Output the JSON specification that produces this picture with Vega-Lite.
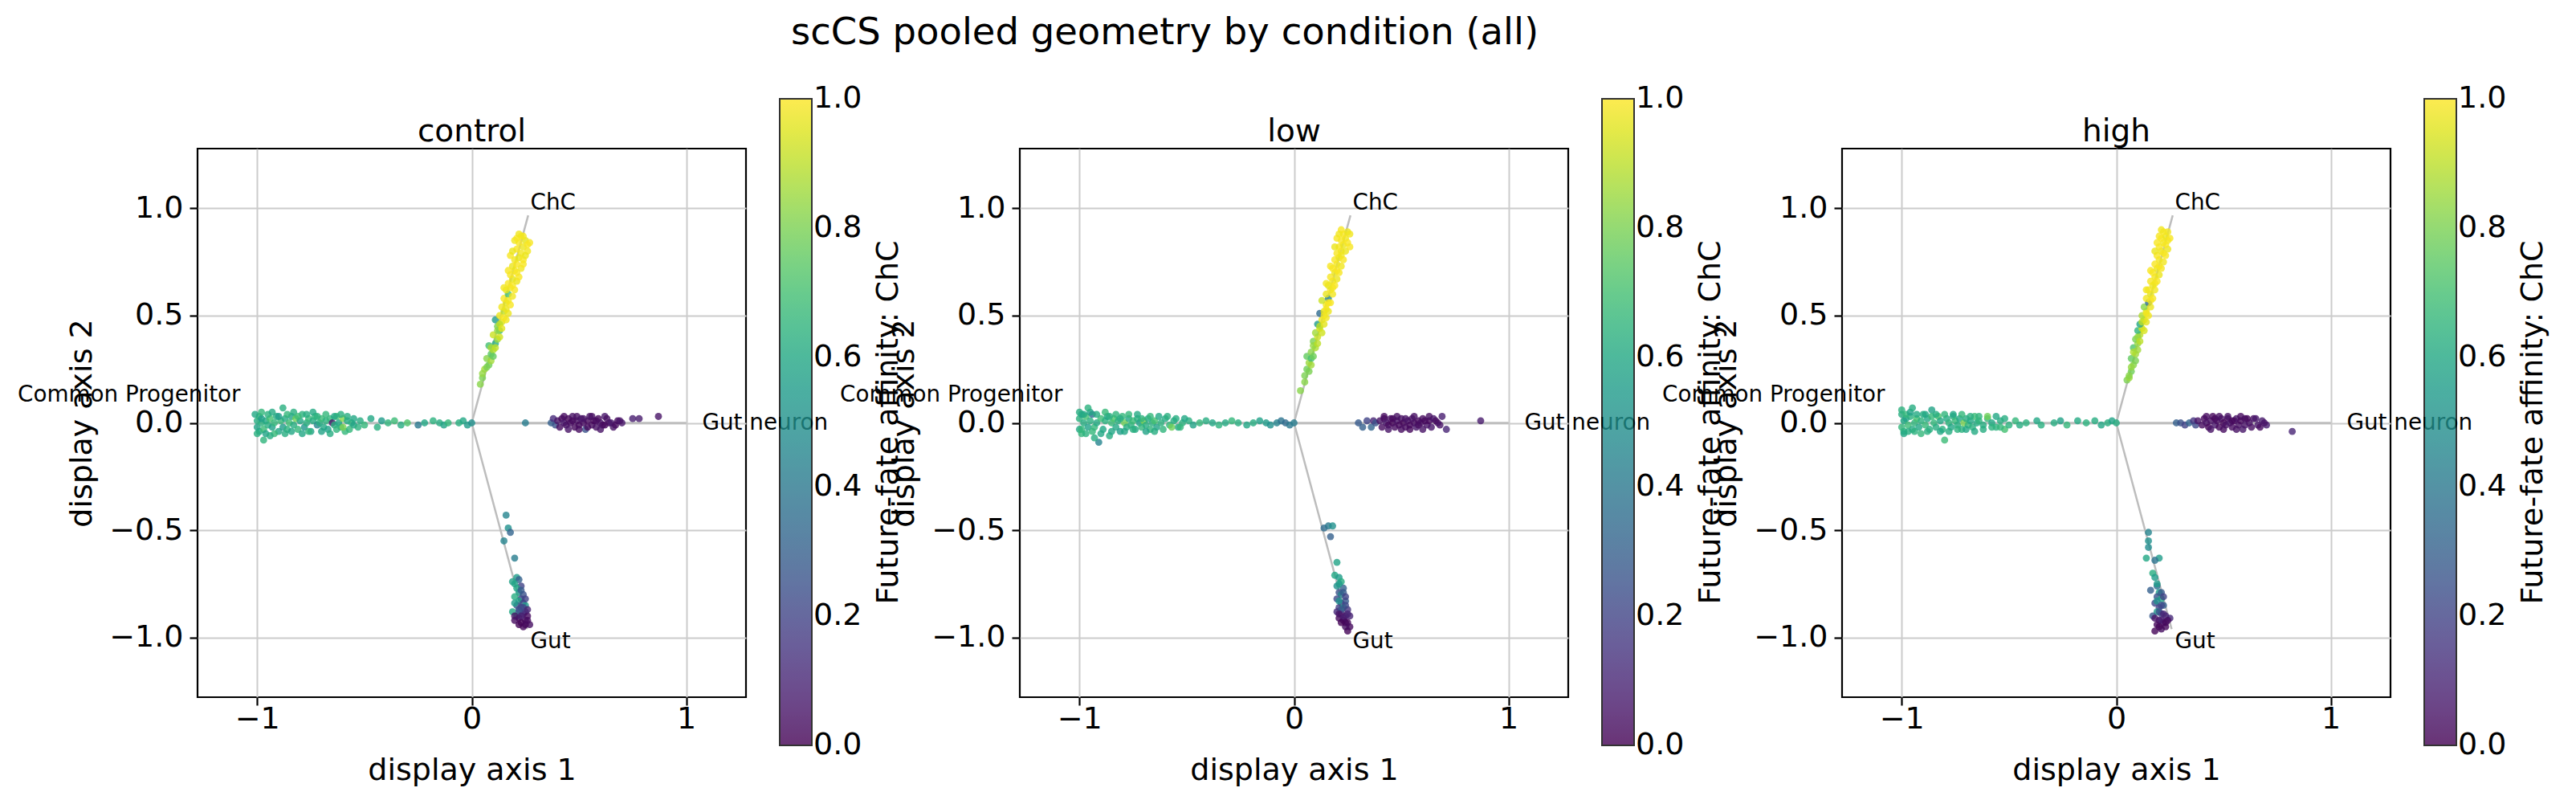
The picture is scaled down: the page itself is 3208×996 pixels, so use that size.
{
"$schema": "https://vega.github.io/schema/vega-lite/v6.json",
"padding": {"left": 20, "top": 18, "right": 5, "bottom": 5},
"background": "white",
"title": {"text": "scCS pooled geometry by condition (all)", "fontSize": 46.5, "font": "DejaVu Sans", "fontWeight": "normal", "color": "black", "anchor": "middle", "offset": 57, "dx": -148},
"bounds": "flush",
"spacing": 341,
"datasets": {
"br": [{"x":0,"y":0,"x2":0.263,"y2":0.967},{"x":0,"y":0,"x2":0.258,"y2":-0.961},{"x":0,"y":0,"x2":-1,"y2":0},{"x":0,"y":0,"x2":1,"y2":0}],
"lab": [{"label":"ChC","x":0.379,"y":1.024},{"label":"Gut","x":0.367,"y":-1.019},{"label":"Gut neuron","x":1.367,"y":0},{"label":"Common Progenitor","x":-1.597,"y":0.128}],
"pts": [
{"c":"control","x":-1.00,"y":0.01,"v":0.62},{"c":"control","x":-1.00,"y":-0.02,"v":0.58},{"c":"control","x":-0.99,"y":0.03,"v":0.66},{"c":"control","x":-0.99,"y":-0.04,"v":0.60},{"c":"control","x":-0.98,"y":0.00,"v":0.64},{"c":"control","x":-0.98,"y":0.02,"v":0.55},{"c":"control","x":-0.97,"y":-0.03,"v":0.68},{"c":"control","x":-0.97,"y":-0.08,"v":0.65},{"c":"control","x":-0.96,"y":0.01,"v":0.60},{"c":"control","x":-0.95,"y":-0.01,"v":0.63},
{"c":"control","x":-0.94,"y":0.02,"v":0.70},{"c":"control","x":-0.93,"y":-0.02,"v":0.57},{"c":"control","x":-0.92,"y":0.00,"v":0.66},{"c":"control","x":-0.91,"y":0.03,"v":0.62},{"c":"control","x":-0.90,"y":-0.04,"v":0.59},{"c":"control","x":-0.89,"y":0.01,"v":0.67},{"c":"control","x":-0.88,"y":0.07,"v":0.63},{"c":"control","x":-0.88,"y":-0.02,"v":0.55},{"c":"control","x":-0.87,"y":0.02,"v":0.61},{"c":"control","x":-0.86,"y":-0.03,"v":0.64},
{"c":"control","x":-0.85,"y":0.00,"v":0.69},{"c":"control","x":-0.84,"y":0.03,"v":0.58},{"c":"control","x":-0.83,"y":-0.01,"v":0.62},{"c":"control","x":-0.82,"y":0.02,"v":0.78},{"c":"control","x":-0.81,"y":-0.03,"v":0.66},{"c":"control","x":-0.80,"y":0.01,"v":0.60},{"c":"control","x":-0.79,"y":0.04,"v":0.64},{"c":"control","x":-0.78,"y":-0.02,"v":0.52},{"c":"control","x":-0.77,"y":0.00,"v":0.63},{"c":"control","x":-0.76,"y":0.02,"v":0.67},
{"c":"control","x":-0.75,"y":-0.04,"v":0.58},{"c":"control","x":-0.74,"y":0.01,"v":0.61},{"c":"control","x":-0.73,"y":0.03,"v":0.65},{"c":"control","x":-0.72,"y":-0.01,"v":0.45},{"c":"control","x":-0.71,"y":0.00,"v":0.62},{"c":"control","x":-0.70,"y":0.02,"v":0.68},{"c":"control","x":-0.69,"y":-0.02,"v":0.60},{"c":"control","x":-0.68,"y":0.01,"v":0.64},{"c":"control","x":-0.67,"y":-0.03,"v":0.57},{"c":"control","x":-0.66,"y":0.02,"v":0.66},
{"c":"control","x":-0.65,"y":0.00,"v":0.05},{"c":"control","x":-0.64,"y":-0.01,"v":0.63},{"c":"control","x":-0.63,"y":0.03,"v":0.70},{"c":"control","x":-0.62,"y":0.00,"v":0.59},{"c":"control","x":-0.61,"y":-0.02,"v":0.62},{"c":"control","x":-0.60,"y":0.02,"v":0.82},{"c":"control","x":-0.59,"y":-0.04,"v":0.66},{"c":"control","x":-0.58,"y":0.01,"v":0.61},{"c":"control","x":-0.56,"y":0.00,"v":0.64},{"c":"control","x":-0.55,"y":-0.01,"v":0.58},
{"c":"control","x":-0.52,"y":0.01,"v":0.62},{"c":"control","x":-0.50,"y":-0.01,"v":0.66},{"c":"control","x":-0.47,"y":0.02,"v":0.60},{"c":"control","x":-0.44,"y":-0.02,"v":0.63},{"c":"control","x":-0.42,"y":0.01,"v":0.55},{"c":"control","x":-0.39,"y":0.00,"v":0.65},{"c":"control","x":-0.36,"y":0.01,"v":0.68},{"c":"control","x":-0.33,"y":-0.01,"v":0.62},{"c":"control","x":-0.30,"y":0.00,"v":0.72},{"c":"control","x":-0.25,"y":-0.01,"v":0.40},
{"c":"control","x":-0.22,"y":0.00,"v":0.60},{"c":"control","x":-0.18,"y":0.01,"v":0.64},{"c":"control","x":-0.15,"y":0.00,"v":0.62},{"c":"control","x":-0.13,"y":-0.01,"v":0.58},{"c":"control","x":-0.11,"y":0.00,"v":0.66},{"c":"control","x":-0.06,"y":0.00,"v":0.63},{"c":"control","x":-0.04,"y":0.01,"v":0.60},{"c":"control","x":-0.02,"y":-0.01,"v":0.55},{"c":"control","x":0.00,"y":0.00,"v":0.50},
{"c":"control","x":0.25,"y":0.00,"v":0.42},{"c":"control","x":0.37,"y":0.00,"v":0.30},{"c":"control","x":0.38,"y":0.02,"v":0.12},{"c":"control","x":0.39,"y":-0.01,"v":0.25},{"c":"control","x":0.40,"y":0.01,"v":0.05},{"c":"control","x":0.41,"y":-0.02,"v":0.03},{"c":"control","x":0.42,"y":0.02,"v":0.02},{"c":"control","x":0.43,"y":0.00,"v":0.06},{"c":"control","x":0.44,"y":-0.01,"v":0.04},{"c":"control","x":0.45,"y":0.02,"v":0.01},
{"c":"control","x":0.46,"y":0.00,"v":0.03},{"c":"control","x":0.47,"y":0.03,"v":0.05},{"c":"control","x":0.48,"y":-0.02,"v":0.02},{"c":"control","x":0.49,"y":0.01,"v":0.04},{"c":"control","x":0.50,"y":-0.01,"v":0.02},{"c":"control","x":0.51,"y":0.02,"v":0.06},{"c":"control","x":0.52,"y":0.00,"v":0.03},{"c":"control","x":0.53,"y":-0.03,"v":0.25},{"c":"control","x":0.54,"y":0.01,"v":0.02},{"c":"control","x":0.55,"y":0.03,"v":0.05},
{"c":"control","x":0.56,"y":-0.01,"v":0.03},{"c":"control","x":0.57,"y":0.01,"v":0.01},{"c":"control","x":0.58,"y":-0.02,"v":0.04},{"c":"control","x":0.59,"y":0.02,"v":0.02},{"c":"control","x":0.60,"y":0.00,"v":0.05},{"c":"control","x":0.61,"y":-0.01,"v":0.03},{"c":"control","x":0.62,"y":0.03,"v":0.06},{"c":"control","x":0.64,"y":0.00,"v":0.04},{"c":"control","x":0.66,"y":-0.02,"v":0.05},{"c":"control","x":0.68,"y":0.01,"v":0.03},
{"c":"control","x":0.70,"y":0.00,"v":0.06},{"c":"control","x":0.75,"y":0.02,"v":0.08},{"c":"control","x":0.78,"y":0.02,"v":0.07},{"c":"control","x":0.87,"y":0.03,"v":0.05},
{"c":"control","x":0.04,"y":0.18,"v":0.82},{"c":"control","x":0.05,"y":0.21,"v":0.80},{"c":"control","x":0.06,"y":0.25,"v":0.86},{"c":"control","x":0.08,"y":0.27,"v":0.78},{"c":"control","x":0.07,"y":0.30,"v":0.82},{"c":"control","x":0.09,"y":0.32,"v":0.75},{"c":"control","x":0.10,"y":0.34,"v":0.88},{"c":"control","x":0.08,"y":0.36,"v":0.70},{"c":"control","x":0.11,"y":0.37,"v":0.62},{"c":"control","x":0.12,"y":0.39,"v":0.85},
{"c":"control","x":0.10,"y":0.41,"v":0.92},{"c":"control","x":0.13,"y":0.43,"v":0.68},{"c":"control","x":0.12,"y":0.45,"v":0.80},{"c":"control","x":0.14,"y":0.47,"v":0.95},{"c":"control","x":0.11,"y":0.48,"v":0.55},{"c":"control","x":0.13,"y":0.50,"v":0.97},{"c":"control","x":0.15,"y":0.52,"v":0.90},{"c":"control","x":0.14,"y":0.54,"v":0.98},{"c":"control","x":0.16,"y":0.56,"v":0.96},{"c":"control","x":0.15,"y":0.58,"v":0.99},
{"c":"control","x":0.17,"y":0.60,"v":0.72},{"c":"control","x":0.16,"y":0.62,"v":0.97},{"c":"control","x":0.18,"y":0.63,"v":0.98},{"c":"control","x":0.17,"y":0.65,"v":0.99},{"c":"control","x":0.19,"y":0.67,"v":0.96},{"c":"control","x":0.18,"y":0.69,"v":0.99},{"c":"control","x":0.20,"y":0.71,"v":0.98},{"c":"control","x":0.19,"y":0.73,"v":0.97},{"c":"control","x":0.21,"y":0.74,"v":0.99},{"c":"control","x":0.20,"y":0.76,"v":0.98},
{"c":"control","x":0.22,"y":0.77,"v":0.96},{"c":"control","x":0.18,"y":0.78,"v":0.99},{"c":"control","x":0.23,"y":0.79,"v":0.98},{"c":"control","x":0.21,"y":0.81,"v":0.99},{"c":"control","x":0.24,"y":0.82,"v":0.97},{"c":"control","x":0.22,"y":0.84,"v":0.99},{"c":"control","x":0.20,"y":0.85,"v":0.98},{"c":"control","x":0.25,"y":0.85,"v":0.96},{"c":"control","x":0.23,"y":0.87,"v":0.99},{"c":"control","x":0.26,"y":0.80,"v":0.98},
{"c":"control","x":0.24,"y":0.76,"v":0.99},{"c":"control","x":0.15,"y":0.49,"v":0.99},{"c":"control","x":0.16,"y":0.53,"v":0.97},{"c":"control","x":0.13,"y":0.46,"v":0.90},{"c":"control","x":0.17,"y":0.57,"v":0.98},{"c":"control","x":0.19,"y":0.64,"v":0.99},{"c":"control","x":0.21,"y":0.70,"v":0.99},{"c":"control","x":0.12,"y":0.43,"v":0.84},{"c":"control","x":0.09,"y":0.35,"v":0.86},
{"c":"control","x":0.16,"y":-0.43,"v":0.45},{"c":"control","x":0.17,"y":-0.49,"v":0.50},{"c":"control","x":0.18,"y":-0.51,"v":0.32},{"c":"control","x":0.15,"y":-0.55,"v":0.45},{"c":"control","x":0.20,"y":-0.63,"v":0.42},{"c":"control","x":0.21,"y":-0.72,"v":0.55},{"c":"control","x":0.22,"y":-0.73,"v":0.30},{"c":"control","x":0.20,"y":-0.75,"v":0.58},{"c":"control","x":0.23,"y":-0.76,"v":0.20},{"c":"control","x":0.21,"y":-0.77,"v":0.60},
{"c":"control","x":0.22,"y":-0.79,"v":0.55},{"c":"control","x":0.24,"y":-0.80,"v":0.25},{"c":"control","x":0.20,"y":-0.81,"v":0.62},{"c":"control","x":0.23,"y":-0.82,"v":0.22},{"c":"control","x":0.22,"y":-0.83,"v":0.58},{"c":"control","x":0.24,"y":-0.84,"v":0.20},{"c":"control","x":0.21,"y":-0.85,"v":0.25},{"c":"control","x":0.25,"y":-0.85,"v":0.55},{"c":"control","x":0.23,"y":-0.86,"v":0.18},{"c":"control","x":0.22,"y":-0.87,"v":0.22},
{"c":"control","x":0.25,"y":-0.88,"v":0.15},{"c":"control","x":0.19,"y":-0.88,"v":0.60},{"c":"control","x":0.24,"y":-0.89,"v":0.12},{"c":"control","x":0.21,"y":-0.90,"v":0.60},{"c":"control","x":0.26,"y":-0.90,"v":0.03},{"c":"control","x":0.22,"y":-0.91,"v":0.02},{"c":"control","x":0.25,"y":-0.92,"v":0.05},{"c":"control","x":0.23,"y":-0.93,"v":0.01},{"c":"control","x":0.27,"y":-0.94,"v":0.04},{"c":"control","x":0.24,"y":-0.95,"v":0.02},{"c":"control","x":0.20,"y":-0.92,"v":0.03},
{"c":"control","x":-1.01,"y":0.04,"v":0.60},{"c":"control","x":-1.00,"y":-0.05,"v":0.63},{"c":"control","x":-0.98,"y":0.05,"v":0.66},{"c":"control","x":-0.96,"y":-0.05,"v":0.58},{"c":"control","x":-0.95,"y":0.04,"v":0.64},{"c":"control","x":-0.93,"y":0.05,"v":0.61},{"c":"control","x":-0.92,"y":-0.05,"v":0.67},{"c":"control","x":-0.90,"y":0.03,"v":0.55},{"c":"control","x":-0.87,"y":-0.05,"v":0.62},{"c":"control","x":-0.86,"y":0.04,"v":0.66},
{"c":"control","x":-0.84,"y":-0.04,"v":0.60},{"c":"control","x":-0.83,"y":0.05,"v":0.63},{"c":"control","x":-0.81,"y":0.03,"v":0.68},{"c":"control","x":-0.79,"y":-0.05,"v":0.59},{"c":"control","x":-0.77,"y":0.04,"v":0.62},{"c":"control","x":-0.76,"y":-0.04,"v":0.65},{"c":"control","x":-0.74,"y":0.05,"v":0.61},{"c":"control","x":-0.72,"y":0.03,"v":0.64},{"c":"control","x":-0.70,"y":-0.04,"v":0.58},{"c":"control","x":-0.68,"y":0.04,"v":0.66},
{"c":"control","x":-0.66,"y":-0.05,"v":0.62},{"c":"control","x":-0.64,"y":0.03,"v":0.60},{"c":"control","x":-0.63,"y":-0.03,"v":0.65},{"c":"control","x":-0.61,"y":0.04,"v":0.63},{"c":"control","x":-0.60,"y":-0.02,"v":0.80},{"c":"control","x":-0.58,"y":0.03,"v":0.62},{"c":"control","x":-0.57,"y":-0.03,"v":0.66},{"c":"control","x":-0.55,"y":0.02,"v":0.60},{"c":"control","x":-0.53,"y":-0.02,"v":0.64},{"c":"control","x":-0.94,"y":-0.06,"v":0.62},
{"c":"control","x":0.05,"y":0.23,"v":0.84},{"c":"control","x":0.07,"y":0.26,"v":0.80},{"c":"control","x":0.09,"y":0.29,"v":0.86},{"c":"control","x":0.10,"y":0.31,"v":0.76},{"c":"control","x":0.11,"y":0.35,"v":0.90},{"c":"control","x":0.13,"y":0.40,"v":0.93},{"c":"control","x":0.14,"y":0.44,"v":0.96},{"c":"control","x":0.16,"y":0.48,"v":0.98},{"c":"control","x":0.17,"y":0.51,"v":0.97},{"c":"control","x":0.18,"y":0.55,"v":0.99},
{"c":"control","x":0.19,"y":0.59,"v":0.98},{"c":"control","x":0.20,"y":0.62,"v":0.99},{"c":"control","x":0.21,"y":0.66,"v":0.97},{"c":"control","x":0.22,"y":0.68,"v":0.99},{"c":"control","x":0.23,"y":0.72,"v":0.98},{"c":"control","x":0.24,"y":0.74,"v":0.99},{"c":"control","x":0.25,"y":0.78,"v":0.97},{"c":"control","x":0.26,"y":0.83,"v":0.99},{"c":"control","x":0.24,"y":0.87,"v":0.98},{"c":"control","x":0.21,"y":0.86,"v":0.99},
{"c":"control","x":0.19,"y":0.80,"v":0.97},{"c":"control","x":0.17,"y":0.71,"v":0.99},{"c":"control","x":0.15,"y":0.63,"v":0.98},{"c":"control","x":0.27,"y":0.84,"v":0.99},{"c":"control","x":0.22,"y":0.88,"v":0.98},
{"c":"control","x":0.19,"y":-0.74,"v":0.58},{"c":"control","x":0.23,"y":-0.78,"v":0.28},{"c":"control","x":0.25,"y":-0.82,"v":0.20},{"c":"control","x":0.20,"y":-0.84,"v":0.55},{"c":"control","x":0.24,"y":-0.86,"v":0.22},{"c":"control","x":0.22,"y":-0.88,"v":0.25},{"c":"control","x":0.26,"y":-0.87,"v":0.10},{"c":"control","x":0.20,"y":-0.90,"v":0.05},{"c":"control","x":0.23,"y":-0.90,"v":0.08},{"c":"control","x":0.25,"y":-0.94,"v":0.02},{"c":"control","x":0.22,"y":-0.94,"v":0.01},{"c":"control","x":0.26,"y":-0.92,"v":0.03},
{"c":"control","x":0.43,"y":0.03,"v":0.03},{"c":"control","x":0.45,"y":-0.03,"v":0.05},{"c":"control","x":0.47,"y":0.01,"v":0.02},{"c":"control","x":0.49,"y":0.03,"v":0.04},{"c":"control","x":0.50,"y":-0.03,"v":0.03},{"c":"control","x":0.52,"y":0.02,"v":0.05},{"c":"control","x":0.54,"y":-0.02,"v":0.02},{"c":"control","x":0.56,"y":0.03,"v":0.04},{"c":"control","x":0.58,"y":0.01,"v":0.03},{"c":"control","x":0.60,"y":-0.03,"v":0.05},{"c":"control","x":0.62,"y":-0.01,"v":0.02},{"c":"control","x":0.63,"y":0.02,"v":0.04},{"c":"control","x":0.65,"y":0.00,"v":0.06},{"c":"control","x":0.67,"y":-0.01,"v":0.03},{"c":"control","x":0.69,"y":0.01,"v":0.05},

{"c":"low","x":-1.00,"y":0.02,"v":0.64},{"c":"low","x":-1.00,"y":-0.03,"v":0.60},{"c":"low","x":-0.99,"y":0.04,"v":0.58},{"c":"low","x":-0.99,"y":-0.05,"v":0.66},{"c":"low","x":-0.98,"y":0.00,"v":0.62},{"c":"low","x":-0.97,"y":0.03,"v":0.70},{"c":"low","x":-0.96,"y":-0.02,"v":0.57},{"c":"low","x":-0.95,"y":0.01,"v":0.63},{"c":"low","x":-0.94,"y":0.04,"v":0.35},{"c":"low","x":-0.93,"y":-0.02,"v":0.66},
{"c":"low","x":-0.92,"y":0.00,"v":0.61},{"c":"low","x":-0.91,"y":-0.09,"v":0.45},{"c":"low","x":-0.90,"y":0.02,"v":0.68},{"c":"low","x":-0.89,"y":-0.03,"v":0.60},{"c":"low","x":-0.88,"y":0.01,"v":0.64},{"c":"low","x":-0.87,"y":0.03,"v":0.58},{"c":"low","x":-0.86,"y":-0.06,"v":0.62},{"c":"low","x":-0.85,"y":0.00,"v":0.67},{"c":"low","x":-0.84,"y":0.02,"v":0.72},{"c":"low","x":-0.83,"y":-0.02,"v":0.60},
{"c":"low","x":-0.82,"y":0.01,"v":0.63},{"c":"low","x":-0.81,"y":-0.04,"v":0.56},{"c":"low","x":-0.80,"y":0.03,"v":0.66},{"c":"low","x":-0.79,"y":0.00,"v":0.78},{"c":"low","x":-0.78,"y":-0.02,"v":0.62},{"c":"low","x":-0.77,"y":0.02,"v":0.59},{"c":"low","x":-0.76,"y":-0.01,"v":0.64},{"c":"low","x":-0.75,"y":0.01,"v":0.68},{"c":"low","x":-0.74,"y":-0.03,"v":0.61},{"c":"low","x":-0.73,"y":0.02,"v":0.63},
{"c":"low","x":-0.72,"y":0.00,"v":0.57},{"c":"low","x":-0.71,"y":-0.02,"v":0.66},{"c":"low","x":-0.70,"y":0.01,"v":0.82},{"c":"low","x":-0.69,"y":-0.01,"v":0.62},{"c":"low","x":-0.68,"y":0.02,"v":0.60},{"c":"low","x":-0.67,"y":-0.03,"v":0.65},{"c":"low","x":-0.66,"y":0.00,"v":0.63},{"c":"low","x":-0.65,"y":0.01,"v":0.70},{"c":"low","x":-0.64,"y":-0.02,"v":0.58},{"c":"low","x":-0.62,"y":0.00,"v":0.64},
{"c":"low","x":-0.60,"y":0.02,"v":0.61},{"c":"low","x":-0.58,"y":-0.01,"v":0.66},{"c":"low","x":-0.56,"y":0.01,"v":0.62},{"c":"low","x":-0.54,"y":-0.02,"v":0.60},{"c":"low","x":-0.52,"y":0.00,"v":0.64},
{"c":"low","x":-0.49,"y":0.01,"v":0.63},{"c":"low","x":-0.47,"y":-0.01,"v":0.58},{"c":"low","x":-0.44,"y":0.00,"v":0.66},{"c":"low","x":-0.41,"y":0.01,"v":0.62},{"c":"low","x":-0.38,"y":0.00,"v":0.60},{"c":"low","x":-0.35,"y":-0.01,"v":0.64},{"c":"low","x":-0.32,"y":0.00,"v":0.61},{"c":"low","x":-0.29,"y":0.01,"v":0.66},{"c":"low","x":-0.26,"y":0.00,"v":0.63},{"c":"low","x":-0.22,"y":-0.01,"v":0.59},
{"c":"low","x":-0.19,"y":0.00,"v":0.62},{"c":"low","x":-0.16,"y":0.01,"v":0.57},{"c":"low","x":-0.13,"y":0.00,"v":0.55},{"c":"low","x":-0.11,"y":-0.01,"v":0.50},{"c":"low","x":-0.08,"y":0.00,"v":0.45},{"c":"low","x":-0.06,"y":0.01,"v":0.38},{"c":"low","x":-0.04,"y":0.00,"v":0.35},{"c":"low","x":-0.02,"y":-0.01,"v":0.40},{"c":"low","x":0.00,"y":0.00,"v":0.42},
{"c":"low","x":0.30,"y":0.00,"v":0.28},{"c":"low","x":0.32,"y":-0.02,"v":0.30},{"c":"low","x":0.34,"y":0.01,"v":0.20},{"c":"low","x":0.36,"y":-0.02,"v":0.32},{"c":"low","x":0.37,"y":0.01,"v":0.10},{"c":"low","x":0.38,"y":0.00,"v":0.25},{"c":"low","x":0.40,"y":0.01,"v":0.05},{"c":"low","x":0.41,"y":-0.02,"v":0.03},{"c":"low","x":0.42,"y":0.02,"v":0.02},{"c":"low","x":0.43,"y":0.00,"v":0.06},
{"c":"low","x":0.44,"y":-0.01,"v":0.02},{"c":"low","x":0.45,"y":0.02,"v":0.04},{"c":"low","x":0.46,"y":0.00,"v":0.01},{"c":"low","x":0.47,"y":-0.02,"v":0.03},{"c":"low","x":0.48,"y":0.01,"v":0.05},{"c":"low","x":0.49,"y":-0.01,"v":0.02},{"c":"low","x":0.50,"y":0.02,"v":0.04},{"c":"low","x":0.51,"y":0.00,"v":0.01},{"c":"low","x":0.52,"y":-0.02,"v":0.03},{"c":"low","x":0.53,"y":0.01,"v":0.05},
{"c":"low","x":0.54,"y":-0.01,"v":0.02},{"c":"low","x":0.55,"y":0.02,"v":0.04},{"c":"low","x":0.56,"y":0.00,"v":0.03},{"c":"low","x":0.57,"y":-0.02,"v":0.06},{"c":"low","x":0.58,"y":0.01,"v":0.02},{"c":"low","x":0.59,"y":0.00,"v":0.04},{"c":"low","x":0.60,"y":0.02,"v":0.03},{"c":"low","x":0.62,"y":-0.01,"v":0.05},{"c":"low","x":0.63,"y":0.01,"v":0.02},{"c":"low","x":0.65,"y":0.02,"v":0.06},
{"c":"low","x":0.67,"y":0.00,"v":0.04},{"c":"low","x":0.69,"y":0.03,"v":0.08},{"c":"low","x":0.71,"y":-0.03,"v":0.10},{"c":"low","x":0.87,"y":0.01,"v":0.07},
{"c":"low","x":0.03,"y":0.15,"v":0.82},{"c":"low","x":0.05,"y":0.22,"v":0.80},{"c":"low","x":0.06,"y":0.25,"v":0.78},{"c":"low","x":0.07,"y":0.28,"v":0.85},{"c":"low","x":0.06,"y":0.31,"v":0.76},{"c":"low","x":0.08,"y":0.33,"v":0.82},{"c":"low","x":0.10,"y":0.35,"v":0.88},{"c":"low","x":0.09,"y":0.38,"v":0.80},{"c":"low","x":0.11,"y":0.40,"v":0.92},{"c":"low","x":0.10,"y":0.42,"v":0.86},
{"c":"low","x":0.12,"y":0.44,"v":0.95},{"c":"low","x":0.11,"y":0.46,"v":0.55},{"c":"low","x":0.13,"y":0.48,"v":0.97},{"c":"low","x":0.12,"y":0.51,"v":0.35},{"c":"low","x":0.14,"y":0.52,"v":0.96},{"c":"low","x":0.15,"y":0.55,"v":0.98},{"c":"low","x":0.13,"y":0.57,"v":0.92},{"c":"low","x":0.16,"y":0.58,"v":0.45},{"c":"low","x":0.15,"y":0.60,"v":0.97},{"c":"low","x":0.17,"y":0.62,"v":0.99},
{"c":"low","x":0.16,"y":0.64,"v":0.96},{"c":"low","x":0.18,"y":0.66,"v":0.98},{"c":"low","x":0.17,"y":0.68,"v":0.99},{"c":"low","x":0.19,"y":0.70,"v":0.97},{"c":"low","x":0.18,"y":0.72,"v":0.99},{"c":"low","x":0.20,"y":0.74,"v":0.98},{"c":"low","x":0.19,"y":0.76,"v":0.99},{"c":"low","x":0.21,"y":0.77,"v":0.97},{"c":"low","x":0.20,"y":0.79,"v":0.99},{"c":"low","x":0.22,"y":0.80,"v":0.98},
{"c":"low","x":0.21,"y":0.82,"v":0.99},{"c":"low","x":0.23,"y":0.83,"v":0.97},{"c":"low","x":0.22,"y":0.85,"v":0.99},{"c":"low","x":0.24,"y":0.86,"v":0.98},{"c":"low","x":0.23,"y":0.88,"v":0.99},{"c":"low","x":0.25,"y":0.89,"v":0.97},{"c":"low","x":0.20,"y":0.86,"v":0.99},{"c":"low","x":0.14,"y":0.50,"v":0.98},{"c":"low","x":0.16,"y":0.56,"v":0.99},{"c":"low","x":0.18,"y":0.63,"v":0.98},
{"c":"low","x":0.12,"y":0.45,"v":0.90},{"c":"low","x":0.09,"y":0.36,"v":0.84},{"c":"low","x":0.20,"y":0.71,"v":0.99},{"c":"low","x":0.22,"y":0.78,"v":0.98},{"c":"low","x":0.08,"y":0.30,"v":0.70},{"c":"low","x":0.15,"y":0.53,"v":0.99},
{"c":"low","x":0.14,"y":-0.49,"v":0.35},{"c":"low","x":0.16,"y":-0.48,"v":0.40},{"c":"low","x":0.18,"y":-0.48,"v":0.50},{"c":"low","x":0.17,"y":-0.53,"v":0.30},{"c":"low","x":0.20,"y":-0.65,"v":0.58},{"c":"low","x":0.19,"y":-0.71,"v":0.60},{"c":"low","x":0.21,"y":-0.72,"v":0.55},{"c":"low","x":0.22,"y":-0.74,"v":0.62},{"c":"low","x":0.20,"y":-0.76,"v":0.50},{"c":"low","x":0.23,"y":-0.77,"v":0.30},
{"c":"low","x":0.21,"y":-0.79,"v":0.25},{"c":"low","x":0.22,"y":-0.80,"v":0.45},{"c":"low","x":0.20,"y":-0.82,"v":0.22},{"c":"low","x":0.24,"y":-0.83,"v":0.28},{"c":"low","x":0.22,"y":-0.84,"v":0.20},{"c":"low","x":0.21,"y":-0.86,"v":0.18},{"c":"low","x":0.23,"y":-0.86,"v":0.55},{"c":"low","x":0.25,"y":-0.87,"v":0.15},{"c":"low","x":0.20,"y":-0.88,"v":0.12},{"c":"low","x":0.22,"y":-0.89,"v":0.08},
{"c":"low","x":0.24,"y":-0.90,"v":0.05},{"c":"low","x":0.26,"y":-0.90,"v":0.10},{"c":"low","x":0.23,"y":-0.92,"v":0.03},{"c":"low","x":0.25,"y":-0.93,"v":0.02},{"c":"low","x":0.24,"y":-0.95,"v":0.04},{"c":"low","x":0.25,"y":-0.97,"v":0.01},{"c":"low","x":0.21,"y":-0.91,"v":0.02},
{"c":"low","x":-1.00,"y":0.05,"v":0.62},{"c":"low","x":-0.99,"y":-0.03,"v":0.66},{"c":"low","x":-0.98,"y":0.04,"v":0.60},{"c":"low","x":-0.97,"y":-0.05,"v":0.64},{"c":"low","x":-0.95,"y":0.05,"v":0.58},{"c":"low","x":-0.94,"y":-0.04,"v":0.66},{"c":"low","x":-0.92,"y":0.04,"v":0.62},{"c":"low","x":-0.90,"y":-0.05,"v":0.60},{"c":"low","x":-0.88,"y":0.05,"v":0.67},{"c":"low","x":-0.86,"y":0.03,"v":0.63},
{"c":"low","x":-0.85,"y":-0.04,"v":0.59},{"c":"low","x":-0.83,"y":0.04,"v":0.65},{"c":"low","x":-0.81,"y":0.02,"v":0.62},{"c":"low","x":-0.79,"y":-0.04,"v":0.60},{"c":"low","x":-0.77,"y":0.04,"v":0.66},{"c":"low","x":-0.75,"y":-0.03,"v":0.63},{"c":"low","x":-0.73,"y":0.04,"v":0.61},{"c":"low","x":-0.71,"y":0.02,"v":0.64},{"c":"low","x":-0.69,"y":-0.04,"v":0.58},{"c":"low","x":-0.67,"y":0.03,"v":0.66},
{"c":"low","x":-0.65,"y":-0.04,"v":0.62},{"c":"low","x":-0.63,"y":0.03,"v":0.60},{"c":"low","x":-0.61,"y":-0.03,"v":0.65},{"c":"low","x":-0.59,"y":0.03,"v":0.63},{"c":"low","x":-0.57,"y":-0.02,"v":0.78},{"c":"low","x":-0.55,"y":0.02,"v":0.62},{"c":"low","x":-0.53,"y":-0.02,"v":0.66},{"c":"low","x":-0.51,"y":0.02,"v":0.60},{"c":"low","x":-0.96,"y":0.07,"v":0.64},{"c":"low","x":-0.93,"y":-0.07,"v":0.62},
{"c":"low","x":0.05,"y":0.19,"v":0.82},{"c":"low","x":0.07,"y":0.24,"v":0.80},{"c":"low","x":0.08,"y":0.27,"v":0.86},{"c":"low","x":0.09,"y":0.31,"v":0.78},{"c":"low","x":0.11,"y":0.37,"v":0.90},{"c":"low","x":0.13,"y":0.42,"v":0.93},{"c":"low","x":0.14,"y":0.46,"v":0.96},{"c":"low","x":0.15,"y":0.49,"v":0.98},{"c":"low","x":0.16,"y":0.52,"v":0.97},{"c":"low","x":0.17,"y":0.56,"v":0.99},
{"c":"low","x":0.18,"y":0.60,"v":0.98},{"c":"low","x":0.19,"y":0.64,"v":0.99},{"c":"low","x":0.20,"y":0.67,"v":0.97},{"c":"low","x":0.21,"y":0.70,"v":0.99},{"c":"low","x":0.22,"y":0.73,"v":0.98},{"c":"low","x":0.23,"y":0.76,"v":0.99},{"c":"low","x":0.24,"y":0.80,"v":0.97},{"c":"low","x":0.25,"y":0.84,"v":0.99},{"c":"low","x":0.26,"y":0.88,"v":0.98},{"c":"low","x":0.22,"y":0.90,"v":0.99},
{"c":"low","x":0.19,"y":0.82,"v":0.97},{"c":"low","x":0.17,"y":0.73,"v":0.99},{"c":"low","x":0.15,"y":0.65,"v":0.98},{"c":"low","x":0.26,"y":0.82,"v":0.99},{"c":"low","x":0.21,"y":0.88,"v":0.98},
{"c":"low","x":0.21,"y":-0.75,"v":0.55},{"c":"low","x":0.23,"y":-0.79,"v":0.28},{"c":"low","x":0.24,"y":-0.81,"v":0.20},{"c":"low","x":0.21,"y":-0.83,"v":0.50},{"c":"low","x":0.24,"y":-0.85,"v":0.22},{"c":"low","x":0.22,"y":-0.87,"v":0.25},{"c":"low","x":0.25,"y":-0.89,"v":0.10},{"c":"low","x":0.21,"y":-0.89,"v":0.05},{"c":"low","x":0.23,"y":-0.91,"v":0.08},{"c":"low","x":0.24,"y":-0.93,"v":0.02},{"c":"low","x":0.22,"y":-0.93,"v":0.01},{"c":"low","x":0.26,"y":-0.95,"v":0.03},
{"c":"low","x":0.42,"y":0.03,"v":0.03},{"c":"low","x":0.44,"y":-0.03,"v":0.05},{"c":"low","x":0.46,"y":0.02,"v":0.02},{"c":"low","x":0.48,"y":0.03,"v":0.04},{"c":"low","x":0.50,"y":-0.03,"v":0.03},{"c":"low","x":0.52,"y":0.02,"v":0.05},{"c":"low","x":0.54,"y":-0.03,"v":0.02},{"c":"low","x":0.56,"y":0.03,"v":0.04},{"c":"low","x":0.58,"y":-0.01,"v":0.03},{"c":"low","x":0.60,"y":-0.03,"v":0.05},{"c":"low","x":0.61,"y":0.01,"v":0.02},{"c":"low","x":0.63,"y":0.03,"v":0.04},{"c":"low","x":0.64,"y":-0.02,"v":0.06},{"c":"low","x":0.66,"y":0.01,"v":0.03},{"c":"low","x":0.68,"y":-0.01,"v":0.05},

{"c":"high","x":-1.00,"y":0.04,"v":0.62},{"c":"high","x":-1.00,"y":-0.02,"v":0.66},{"c":"high","x":-0.99,"y":0.01,"v":0.60},{"c":"high","x":-0.99,"y":-0.04,"v":0.64},{"c":"high","x":-0.98,"y":0.02,"v":0.58},{"c":"high","x":-0.97,"y":-0.01,"v":0.68},{"c":"high","x":-0.96,"y":0.03,"v":0.63},{"c":"high","x":-0.95,"y":-0.03,"v":0.61},{"c":"high","x":-0.94,"y":0.00,"v":0.65},{"c":"high","x":-0.93,"y":0.02,"v":0.70},
{"c":"high","x":-0.92,"y":-0.02,"v":0.59},{"c":"high","x":-0.91,"y":0.01,"v":0.64},{"c":"high","x":-0.90,"y":0.04,"v":0.62},{"c":"high","x":-0.89,"y":-0.01,"v":0.67},{"c":"high","x":-0.88,"y":0.02,"v":0.60},{"c":"high","x":-0.87,"y":-0.03,"v":0.63},{"c":"high","x":-0.86,"y":0.06,"v":0.58},{"c":"high","x":-0.85,"y":0.00,"v":0.66},{"c":"high","x":-0.84,"y":-0.02,"v":0.62},{"c":"high","x":-0.83,"y":0.03,"v":0.72},
{"c":"high","x":-0.82,"y":0.01,"v":0.60},{"c":"high","x":-0.81,"y":-0.03,"v":0.64},{"c":"high","x":-0.80,"y":-0.08,"v":0.68},{"c":"high","x":-0.79,"y":0.02,"v":0.61},{"c":"high","x":-0.78,"y":0.00,"v":0.65},{"c":"high","x":-0.77,"y":-0.02,"v":0.59},{"c":"high","x":-0.76,"y":0.03,"v":0.63},{"c":"high","x":-0.75,"y":0.01,"v":0.67},{"c":"high","x":-0.74,"y":-0.01,"v":0.62},{"c":"high","x":-0.73,"y":0.02,"v":0.60},
{"c":"high","x":-0.72,"y":-0.03,"v":0.64},{"c":"high","x":-0.71,"y":0.00,"v":0.80},{"c":"high","x":-0.70,"y":0.02,"v":0.62},{"c":"high","x":-0.69,"y":-0.01,"v":0.66},{"c":"high","x":-0.68,"y":0.01,"v":0.60},{"c":"high","x":-0.67,"y":-0.02,"v":0.63},{"c":"high","x":-0.66,"y":0.03,"v":0.68},{"c":"high","x":-0.65,"y":0.00,"v":0.61},{"c":"high","x":-0.64,"y":0.01,"v":0.65},{"c":"high","x":-0.62,"y":-0.01,"v":0.62},
{"c":"high","x":-0.60,"y":0.02,"v":0.66},{"c":"high","x":-0.58,"y":0.00,"v":0.60},{"c":"high","x":-0.56,"y":-0.02,"v":0.64},{"c":"high","x":-0.54,"y":0.01,"v":0.62},{"c":"high","x":-0.52,"y":-0.03,"v":0.70},
{"c":"high","x":-0.47,"y":0.01,"v":0.66},{"c":"high","x":-0.45,"y":-0.01,"v":0.62},{"c":"high","x":-0.42,"y":0.00,"v":0.64},{"c":"high","x":-0.37,"y":0.01,"v":0.60},{"c":"high","x":-0.35,"y":-0.01,"v":0.63},{"c":"high","x":-0.29,"y":0.00,"v":0.62},{"c":"high","x":-0.26,"y":0.01,"v":0.58},{"c":"high","x":-0.23,"y":-0.01,"v":0.66},{"c":"high","x":-0.18,"y":0.01,"v":0.61},{"c":"high","x":-0.14,"y":0.00,"v":0.64},
{"c":"high","x":-0.10,"y":0.01,"v":0.62},{"c":"high","x":-0.07,"y":-0.01,"v":0.60},{"c":"high","x":-0.04,"y":0.00,"v":0.63},{"c":"high","x":-0.02,"y":0.01,"v":0.58},{"c":"high","x":0.00,"y":0.00,"v":0.62},
{"c":"high","x":0.28,"y":0.00,"v":0.30},{"c":"high","x":0.30,"y":0.00,"v":0.25},{"c":"high","x":0.32,"y":-0.01,"v":0.20},{"c":"high","x":0.34,"y":0.00,"v":0.32},{"c":"high","x":0.36,"y":0.01,"v":0.15},{"c":"high","x":0.37,"y":-0.01,"v":0.22},{"c":"high","x":0.38,"y":0.01,"v":0.05},{"c":"high","x":0.40,"y":-0.01,"v":0.03},{"c":"high","x":0.41,"y":0.02,"v":0.02},{"c":"high","x":0.42,"y":0.00,"v":0.05},
{"c":"high","x":0.43,"y":-0.02,"v":0.01},{"c":"high","x":0.44,"y":0.01,"v":0.04},{"c":"high","x":0.45,"y":0.03,"v":0.02},{"c":"high","x":0.46,"y":-0.01,"v":0.06},{"c":"high","x":0.47,"y":0.01,"v":0.03},{"c":"high","x":0.48,"y":-0.02,"v":0.02},{"c":"high","x":0.49,"y":0.02,"v":0.05},{"c":"high","x":0.50,"y":0.00,"v":0.01},{"c":"high","x":0.51,"y":-0.01,"v":0.04},{"c":"high","x":0.52,"y":0.02,"v":0.02},
{"c":"high","x":0.53,"y":0.00,"v":0.06},{"c":"high","x":0.54,"y":-0.02,"v":0.03},{"c":"high","x":0.55,"y":0.01,"v":0.02},{"c":"high","x":0.56,"y":0.02,"v":0.05},{"c":"high","x":0.57,"y":-0.01,"v":0.04},{"c":"high","x":0.58,"y":0.01,"v":0.02},{"c":"high","x":0.59,"y":-0.03,"v":0.06},{"c":"high","x":0.60,"y":0.02,"v":0.03},{"c":"high","x":0.62,"y":0.00,"v":0.05},{"c":"high","x":0.64,"y":0.02,"v":0.04},
{"c":"high","x":0.66,"y":-0.01,"v":0.06},{"c":"high","x":0.68,"y":0.01,"v":0.07},{"c":"high","x":0.70,"y":-0.01,"v":0.08},{"c":"high","x":0.82,"y":-0.04,"v":0.10},
{"c":"high","x":0.05,"y":0.20,"v":0.80},{"c":"high","x":0.06,"y":0.21,"v":0.85},{"c":"high","x":0.07,"y":0.24,"v":0.78},{"c":"high","x":0.08,"y":0.27,"v":0.82},{"c":"high","x":0.07,"y":0.30,"v":0.76},{"c":"high","x":0.09,"y":0.32,"v":0.86},{"c":"high","x":0.08,"y":0.35,"v":0.72},{"c":"high","x":0.10,"y":0.37,"v":0.84},{"c":"high","x":0.09,"y":0.39,"v":0.80},{"c":"high","x":0.11,"y":0.41,"v":0.90},
{"c":"high","x":0.10,"y":0.43,"v":0.65},{"c":"high","x":0.12,"y":0.44,"v":0.93},{"c":"high","x":0.11,"y":0.46,"v":0.60},{"c":"high","x":0.13,"y":0.48,"v":0.96},{"c":"high","x":0.12,"y":0.50,"v":0.88},{"c":"high","x":0.14,"y":0.52,"v":0.97},{"c":"high","x":0.13,"y":0.54,"v":0.82},{"c":"high","x":0.15,"y":0.56,"v":0.35},{"c":"high","x":0.14,"y":0.58,"v":0.98},{"c":"high","x":0.16,"y":0.60,"v":0.96},
{"c":"high","x":0.15,"y":0.62,"v":0.99},{"c":"high","x":0.17,"y":0.64,"v":0.97},{"c":"high","x":0.16,"y":0.66,"v":0.99},{"c":"high","x":0.18,"y":0.68,"v":0.98},{"c":"high","x":0.17,"y":0.70,"v":0.99},{"c":"high","x":0.19,"y":0.72,"v":0.97},{"c":"high","x":0.18,"y":0.74,"v":0.99},{"c":"high","x":0.20,"y":0.76,"v":0.98},{"c":"high","x":0.19,"y":0.78,"v":0.99},{"c":"high","x":0.21,"y":0.80,"v":0.97},
{"c":"high","x":0.20,"y":0.82,"v":0.99},{"c":"high","x":0.22,"y":0.84,"v":0.98},{"c":"high","x":0.21,"y":0.86,"v":0.99},{"c":"high","x":0.23,"y":0.87,"v":0.97},{"c":"high","x":0.22,"y":0.89,"v":0.99},{"c":"high","x":0.24,"y":0.85,"v":0.98},{"c":"high","x":0.19,"y":0.84,"v":0.99},{"c":"high","x":0.14,"y":0.51,"v":0.98},{"c":"high","x":0.16,"y":0.57,"v":0.99},{"c":"high","x":0.18,"y":0.65,"v":0.98},
{"c":"high","x":0.20,"y":0.73,"v":0.99},{"c":"high","x":0.12,"y":0.47,"v":0.90},{"c":"high","x":0.10,"y":0.40,"v":0.84},{"c":"high","x":0.22,"y":0.79,"v":0.99},{"c":"high","x":0.08,"y":0.33,"v":0.88},
{"c":"high","x":0.15,"y":-0.51,"v":0.45},{"c":"high","x":0.15,"y":-0.55,"v":0.50},{"c":"high","x":0.15,"y":-0.58,"v":0.48},{"c":"high","x":0.14,"y":-0.63,"v":0.60},{"c":"high","x":0.20,"y":-0.63,"v":0.55},{"c":"high","x":0.18,"y":-0.64,"v":0.38},{"c":"high","x":0.17,"y":-0.70,"v":0.62},{"c":"high","x":0.18,"y":-0.72,"v":0.55},{"c":"high","x":0.19,"y":-0.76,"v":0.35},{"c":"high","x":0.16,"y":-0.78,"v":0.30},
{"c":"high","x":0.20,"y":-0.79,"v":0.55},{"c":"high","x":0.19,"y":-0.81,"v":0.25},{"c":"high","x":0.21,"y":-0.82,"v":0.60},{"c":"high","x":0.18,"y":-0.84,"v":0.22},{"c":"high","x":0.22,"y":-0.85,"v":0.30},{"c":"high","x":0.20,"y":-0.86,"v":0.18},{"c":"high","x":0.19,"y":-0.88,"v":0.55},{"c":"high","x":0.21,"y":-0.89,"v":0.20},{"c":"high","x":0.23,"y":-0.90,"v":0.10},{"c":"high","x":0.17,"y":-0.90,"v":0.28},
{"c":"high","x":0.25,"y":-0.91,"v":0.12},{"c":"high","x":0.20,"y":-0.92,"v":0.05},{"c":"high","x":0.22,"y":-0.93,"v":0.03},{"c":"high","x":0.19,"y":-0.94,"v":0.02},{"c":"high","x":0.21,"y":-0.96,"v":0.04},{"c":"high","x":0.18,"y":-0.97,"v":0.01},{"c":"high","x":0.23,"y":-0.95,"v":0.02},
{"c":"high","x":-1.00,"y":0.06,"v":0.64},{"c":"high","x":-0.99,"y":-0.05,"v":0.60},{"c":"high","x":-0.98,"y":0.04,"v":0.66},{"c":"high","x":-0.97,"y":-0.04,"v":0.62},{"c":"high","x":-0.96,"y":0.05,"v":0.58},{"c":"high","x":-0.94,"y":-0.04,"v":0.64},{"c":"high","x":-0.93,"y":0.04,"v":0.61},{"c":"high","x":-0.91,"y":-0.05,"v":0.66},{"c":"high","x":-0.89,"y":0.04,"v":0.60},{"c":"high","x":-0.88,"y":-0.04,"v":0.63},
{"c":"high","x":-0.86,"y":0.03,"v":0.67},{"c":"high","x":-0.84,"y":0.04,"v":0.62},{"c":"high","x":-0.82,"y":-0.04,"v":0.60},{"c":"high","x":-0.80,"y":0.04,"v":0.65},{"c":"high","x":-0.78,"y":-0.04,"v":0.62},{"c":"high","x":-0.76,"y":0.04,"v":0.59},{"c":"high","x":-0.74,"y":-0.03,"v":0.64},{"c":"high","x":-0.72,"y":0.04,"v":0.66},{"c":"high","x":-0.70,"y":-0.03,"v":0.60},{"c":"high","x":-0.68,"y":0.03,"v":0.63},
{"c":"high","x":-0.66,"y":-0.04,"v":0.61},{"c":"high","x":-0.64,"y":0.03,"v":0.65},{"c":"high","x":-0.62,"y":-0.03,"v":0.62},{"c":"high","x":-0.60,"y":0.03,"v":0.78},{"c":"high","x":-0.58,"y":-0.02,"v":0.64},{"c":"high","x":-0.56,"y":0.03,"v":0.60},{"c":"high","x":-0.54,"y":-0.02,"v":0.66},{"c":"high","x":-0.52,"y":0.02,"v":0.62},{"c":"high","x":-0.50,"y":-0.01,"v":0.64},{"c":"high","x":-0.95,"y":0.07,"v":0.62},
{"c":"high","x":0.06,"y":0.22,"v":0.82},{"c":"high","x":0.07,"y":0.26,"v":0.84},{"c":"high","x":0.09,"y":0.29,"v":0.80},{"c":"high","x":0.10,"y":0.34,"v":0.86},{"c":"high","x":0.11,"y":0.38,"v":0.90},{"c":"high","x":0.13,"y":0.43,"v":0.94},{"c":"high","x":0.14,"y":0.47,"v":0.96},{"c":"high","x":0.15,"y":0.50,"v":0.98},{"c":"high","x":0.16,"y":0.54,"v":0.97},{"c":"high","x":0.17,"y":0.58,"v":0.99},
{"c":"high","x":0.18,"y":0.62,"v":0.98},{"c":"high","x":0.19,"y":0.66,"v":0.99},{"c":"high","x":0.20,"y":0.69,"v":0.97},{"c":"high","x":0.21,"y":0.72,"v":0.99},{"c":"high","x":0.22,"y":0.75,"v":0.98},{"c":"high","x":0.23,"y":0.78,"v":0.99},{"c":"high","x":0.24,"y":0.81,"v":0.97},{"c":"high","x":0.25,"y":0.86,"v":0.99},{"c":"high","x":0.24,"y":0.89,"v":0.98},{"c":"high","x":0.20,"y":0.87,"v":0.99},
{"c":"high","x":0.18,"y":0.80,"v":0.97},{"c":"high","x":0.16,"y":0.71,"v":0.99},{"c":"high","x":0.14,"y":0.62,"v":0.98},{"c":"high","x":0.23,"y":0.83,"v":0.99},{"c":"high","x":0.21,"y":0.90,"v":0.98},
{"c":"high","x":0.19,"y":-0.75,"v":0.55},{"c":"high","x":0.21,"y":-0.79,"v":0.28},{"c":"high","x":0.22,"y":-0.81,"v":0.20},{"c":"high","x":0.19,"y":-0.83,"v":0.50},{"c":"high","x":0.21,"y":-0.85,"v":0.22},{"c":"high","x":0.20,"y":-0.88,"v":0.25},{"c":"high","x":0.22,"y":-0.89,"v":0.10},{"c":"high","x":0.18,"y":-0.91,"v":0.05},{"c":"high","x":0.21,"y":-0.92,"v":0.08},{"c":"high","x":0.23,"y":-0.93,"v":0.02},{"c":"high","x":0.20,"y":-0.95,"v":0.01},{"c":"high","x":0.24,"y":-0.92,"v":0.03},
{"c":"high","x":0.42,"y":0.03,"v":0.03},{"c":"high","x":0.44,"y":-0.03,"v":0.05},{"c":"high","x":0.46,"y":0.02,"v":0.02},{"c":"high","x":0.48,"y":0.03,"v":0.04},{"c":"high","x":0.50,"y":-0.03,"v":0.03},{"c":"high","x":0.52,"y":0.03,"v":0.05},{"c":"high","x":0.54,"y":0.01,"v":0.02},{"c":"high","x":0.56,"y":-0.03,"v":0.04},{"c":"high","x":0.58,"y":0.03,"v":0.03},{"c":"high","x":0.60,"y":-0.01,"v":0.05},{"c":"high","x":0.61,"y":0.02,"v":0.02},{"c":"high","x":0.63,"y":-0.02,"v":0.04},{"c":"high","x":0.65,"y":0.02,"v":0.06},{"c":"high","x":0.67,"y":-0.02,"v":0.03},{"c":"high","x":0.69,"y":0.00,"v":0.05}
]
},
"hconcat": [
{"width": 683, "height": 683, "title": "control",
 "layer": [
  {"data": {"name": "br"}, "mark": {"type": "rule", "color": "#bdbdbd", "strokeWidth": 2.5},
   "encoding": {"x": {"field": "x", "type": "quantitative", "scale": {"domain": [-1.278, 1.278], "nice": false, "zero": false}, "axis": {"values": [-1, 0, 1], "format": "d", "title": "display axis 1"}},
                "y": {"field": "y", "type": "quantitative", "scale": {"domain": [-1.278, 1.278], "nice": false, "zero": false}, "axis": {"values": [-1, -0.5, 0, 0.5, 1], "format": ".1f", "title": "display axis 2"}},
                "x2": {"field": "x2"}, "y2": {"field": "y2"}}},
  {"data": {"name": "pts"}, "transform": [{"filter": "datum.c === 'control'"}], "mark": {"type": "circle", "size": 78, "opacity": 0.8},
   "encoding": {"x": {"field": "x", "type": "quantitative", "scale": {"domain": [-1.278, 1.278], "nice": false, "zero": false}, "axis": {"values": [-1, 0, 1], "format": "d", "title": "display axis 1"}},
                "y": {"field": "y", "type": "quantitative", "scale": {"domain": [-1.278, 1.278], "nice": false, "zero": false}, "axis": {"values": [-1, -0.5, 0, 0.5, 1], "format": ".1f", "title": "display axis 2"}},
                "color": {"field": "v", "type": "quantitative", "scale": {"scheme": "viridis", "domain": [0, 1]}, "legend": {"orient": "none", "legendX": 725, "legendY": -62, "zindex": 1, "title": "Future-fate affinity: ChC", "values": [0, 0.2, 0.4, 0.6, 0.8, 1], "format": ".1f", "titleOrient": "right", "titleAnchor": "middle", "encoding": {"labels": {"baseline": {"value": "middle"}}, "title": {"angle": {"value": 270}, "baseline": {"value": "top"}}}}}}},
  {"data": {"name": "lab"}, "mark": {"type": "text", "fontSize": 27.8, "font": "DejaVu Sans", "align": "center", "baseline": "middle", "color": "black"},
   "encoding": {"x": {"field": "x", "type": "quantitative", "scale": {"domain": [-1.278, 1.278], "nice": false, "zero": false}, "axis": {"values": [-1, 0, 1], "format": "d", "title": "display axis 1"}},
                "y": {"field": "y", "type": "quantitative", "scale": {"domain": [-1.278, 1.278], "nice": false, "zero": false}, "axis": {"values": [-1, -0.5, 0, 0.5, 1], "format": ".1f", "title": "display axis 2"}},
                "text": {"field": "label"}}}
 ]},
{"width": 683, "height": 683, "title": "low",
 "layer": [
  {"data": {"name": "br"}, "mark": {"type": "rule", "color": "#bdbdbd", "strokeWidth": 2.5},
   "encoding": {"x": {"field": "x", "type": "quantitative", "scale": {"domain": [-1.278, 1.278], "nice": false, "zero": false}, "axis": {"values": [-1, 0, 1], "format": "d", "title": "display axis 1"}},
                "y": {"field": "y", "type": "quantitative", "scale": {"domain": [-1.278, 1.278], "nice": false, "zero": false}, "axis": {"values": [-1, -0.5, 0, 0.5, 1], "format": ".1f", "title": "display axis 2"}},
                "x2": {"field": "x2"}, "y2": {"field": "y2"}}},
  {"data": {"name": "pts"}, "transform": [{"filter": "datum.c === 'low'"}], "mark": {"type": "circle", "size": 78, "opacity": 0.8},
   "encoding": {"x": {"field": "x", "type": "quantitative", "scale": {"domain": [-1.278, 1.278], "nice": false, "zero": false}, "axis": {"values": [-1, 0, 1], "format": "d", "title": "display axis 1"}},
                "y": {"field": "y", "type": "quantitative", "scale": {"domain": [-1.278, 1.278], "nice": false, "zero": false}, "axis": {"values": [-1, -0.5, 0, 0.5, 1], "format": ".1f", "title": "display axis 2"}},
                "color": {"field": "v", "type": "quantitative", "scale": {"scheme": "viridis", "domain": [0, 1]}, "legend": {"orient": "none", "legendX": 725, "legendY": -62, "zindex": 1, "title": "Future-fate affinity: ChC", "values": [0, 0.2, 0.4, 0.6, 0.8, 1], "format": ".1f", "titleOrient": "right", "titleAnchor": "middle", "encoding": {"labels": {"baseline": {"value": "middle"}}, "title": {"angle": {"value": 270}, "baseline": {"value": "top"}}}}}}},
  {"data": {"name": "lab"}, "mark": {"type": "text", "fontSize": 27.8, "font": "DejaVu Sans", "align": "center", "baseline": "middle", "color": "black"},
   "encoding": {"x": {"field": "x", "type": "quantitative", "scale": {"domain": [-1.278, 1.278], "nice": false, "zero": false}, "axis": {"values": [-1, 0, 1], "format": "d", "title": "display axis 1"}},
                "y": {"field": "y", "type": "quantitative", "scale": {"domain": [-1.278, 1.278], "nice": false, "zero": false}, "axis": {"values": [-1, -0.5, 0, 0.5, 1], "format": ".1f", "title": "display axis 2"}},
                "text": {"field": "label"}}}
 ]},
{"width": 683, "height": 683, "title": "high",
 "layer": [
  {"data": {"name": "br"}, "mark": {"type": "rule", "color": "#bdbdbd", "strokeWidth": 2.5},
   "encoding": {"x": {"field": "x", "type": "quantitative", "scale": {"domain": [-1.278, 1.278], "nice": false, "zero": false}, "axis": {"values": [-1, 0, 1], "format": "d", "title": "display axis 1"}},
                "y": {"field": "y", "type": "quantitative", "scale": {"domain": [-1.278, 1.278], "nice": false, "zero": false}, "axis": {"values": [-1, -0.5, 0, 0.5, 1], "format": ".1f", "title": "display axis 2"}},
                "x2": {"field": "x2"}, "y2": {"field": "y2"}}},
  {"data": {"name": "pts"}, "transform": [{"filter": "datum.c === 'high'"}], "mark": {"type": "circle", "size": 78, "opacity": 0.8},
   "encoding": {"x": {"field": "x", "type": "quantitative", "scale": {"domain": [-1.278, 1.278], "nice": false, "zero": false}, "axis": {"values": [-1, 0, 1], "format": "d", "title": "display axis 1"}},
                "y": {"field": "y", "type": "quantitative", "scale": {"domain": [-1.278, 1.278], "nice": false, "zero": false}, "axis": {"values": [-1, -0.5, 0, 0.5, 1], "format": ".1f", "title": "display axis 2"}},
                "color": {"field": "v", "type": "quantitative", "scale": {"scheme": "viridis", "domain": [0, 1]}, "legend": {"orient": "none", "legendX": 725, "legendY": -62, "zindex": 1, "title": "Future-fate affinity: ChC", "values": [0, 0.2, 0.4, 0.6, 0.8, 1], "format": ".1f", "titleOrient": "right", "titleAnchor": "middle", "encoding": {"labels": {"baseline": {"value": "middle"}}, "title": {"angle": {"value": 270}, "baseline": {"value": "top"}}}}}}},
  {"data": {"name": "lab"}, "mark": {"type": "text", "fontSize": 27.8, "font": "DejaVu Sans", "align": "center", "baseline": "middle", "color": "black"},
   "encoding": {"x": {"field": "x", "type": "quantitative", "scale": {"domain": [-1.278, 1.278], "nice": false, "zero": false}, "axis": {"values": [-1, 0, 1], "format": "d", "title": "display axis 1"}},
                "y": {"field": "y", "type": "quantitative", "scale": {"domain": [-1.278, 1.278], "nice": false, "zero": false}, "axis": {"values": [-1, -0.5, 0, 0.5, 1], "format": ".1f", "title": "display axis 2"}},
                "text": {"field": "label"}}}
 ]}
],
"resolve": {"scale": {"color": "independent"}, "legend": {"color": "independent"}},
"config": {
 "font": "DejaVu Sans",
 "view": {"stroke": "black", "strokeWidth": 2.2},
 "axis": {"grid": true, "gridColor": "#cccccc", "gridWidth": 2, "domain": false, "ticks": true, "tickColor": "black", "tickWidth": 2.2, "tickSize": 10, "labelFont": "DejaVu Sans", "labelFontSize": 38, "labelColor": "black", "labelPadding": 8, "titleFont": "DejaVu Sans", "titleFontSize": 38, "titleFontWeight": "normal", "titleColor": "black"},
 "axisX": {"titlePadding": 26, "labelPadding": -2},
 "axisY": {"titlePadding": 14},
 "title": {"font": "DejaVu Sans", "fontSize": 39, "fontWeight": "normal", "color": "black", "offset": -61},
 "legend": {"direction": "vertical", "gradientLength": 805, "gradientThickness": 40, "gradientStrokeColor": "black", "gradientStrokeWidth": 2, "labelFont": "DejaVu Sans", "labelFontSize": 38, "labelColor": "black", "labelOffset": 21, "labelOverlap": false, "titleFont": "DejaVu Sans", "titleFontSize": 38, "titleFontWeight": "normal", "titleColor": "black", "titlePadding": 15, "titleLimit": 2000}
}
}
